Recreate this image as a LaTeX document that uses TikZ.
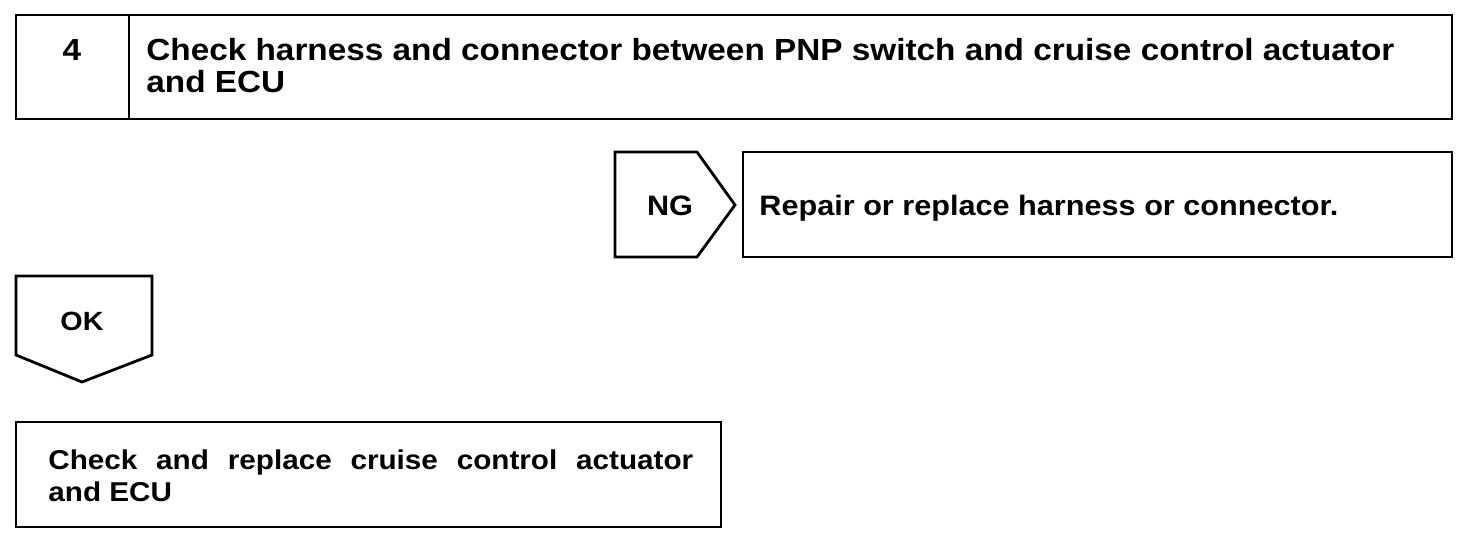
\documentclass[tikz,border=0pt]{standalone}
\usepackage{fontspec}
\setmainfont{Liberation Sans}[FakeStretch=1.09]
\begin{document}
\begin{tikzpicture}[x=0.02cm,y=-0.02cm,line width=1.6pt,
	txt/.style={anchor=base west,inner sep=0pt,font=\bfseries\fontsize{#1}{20}\selectfont},
	txt/.default=16]
	\useasboundingbox (0,0) rectangle (1472,544);
	% step box
	\draw (16,15) rectangle (1452,119);
	\draw (129,15) -- (129,119);
	\node[txt=17.4,anchor=base] (num) at (72,61) {4};
	\node[txt=17.4] (head1) at (145,61) {Check harness and connector between PNP switch and cruise control actuator};
	\node[txt=17.4] (head2) at (145,93) {and ECU};
	% NG branch
	\draw (615,152) -- (697,152) -- (735,205) -- (697,257) -- (615,257) -- cycle;
	\node[txt,anchor=base] (ng) at (670,215) {NG};
	\draw (743,152) rectangle (1452,257);
	\node[txt] (repair) at (758,215) {Repair or replace harness or connector.};
	% OK branch
	\draw (16,276) -- (152,276) -- (152,355) -- (82,382) -- (16,355) -- cycle;
	\node[txt=15,anchor=base] (ok) at (82,330) {OK};
	\draw (16,422) rectangle (721,527);
	\node[txt=15.5] (fix1) at (47,469) {\makebox[12.9cm][s]{Check and replace cruise control actuator}};
	\node[txt=15.5] (fix2) at (47,501) {and ECU};
\end{tikzpicture}
\end{document}
